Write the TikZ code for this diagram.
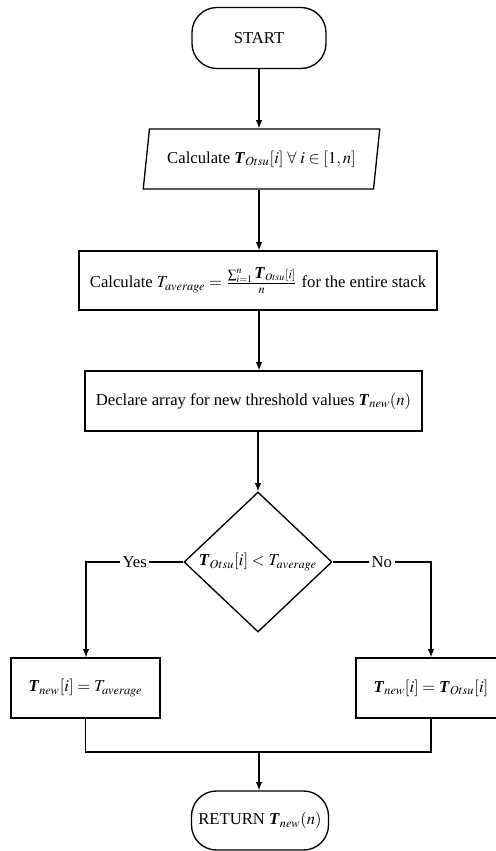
\documentclass[tikz,border=0pt]{standalone}
\usepackage{mathptmx}
\usepackage{fontspec}
\setmainfont{Liberation Serif}
\usetikzlibrary{shapes.geometric,arrows.meta}
\newcommand{\bT}{\textbf{\textit{T}}}
\begin{document}
\begin{tikzpicture}[x=0.6pt,y=-0.6pt,
		flowline/.style={black, thick},
		flowarrow/.style={black, thick, -{Latex[length=5pt,width=4pt]}},
		terminal/.style={draw, thick, rectangle, rounded corners=15pt, inner xsep=2pt, minimum width=80.4pt, minimum height=36.6pt},
		process/.style={draw, thick, rectangle, minimum height=36pt},
		branch/.style={fill=white, inner sep=1.5pt}]
	\clip (0,0) rectangle (496,851);
	\node[terminal] (start) at (259,38){START};
	\node[draw, thick, trapezium, trapezium left angle=78.7, trapezium right angle=101.3, trapezium stretches=true, minimum width=142pt, minimum height=36pt] (otsu) at (261.5,159){Calculate $\bT_{Otsu}[i]\;\forall\;i\in[1,n]$};
	\node[process, minimum width=214.8pt, minimum height=35.4pt] (avg) at (258,280.5){Calculate $T_{average} = \frac{\sum_{i=1}^{n}\bT_{Otsu}[i]}{n}$ for the entire stack};
	\node[process, minimum width=202.2pt] (arr) at (253.5,401){Declare array for new threshold values $\bT_{new}(n)$};
	\node[draw, thick, diamond, inner sep=0pt, minimum width=88.8pt, minimum height=84pt] (cmp) at (258,562){$\bT_{Otsu}[i] < T_{average}$};
	\node[process, minimum width=89.4pt] (yes) at (85.5,688){$\bT_{new}[i] = T_{average}$};
	\node[process, minimum width=90pt] (no) at (431,688){$\bT_{new}[i] = \bT_{Otsu}[i]$};
	\node[terminal, minimum width=82.2pt, minimum height=35.4pt] (ret) at (260,820.5){RETURN $\bT_{new}(n)$};
	\coordinate (yturn) at (86,562);
	\coordinate (nturn) at (431,562);
	\coordinate (merge) at (259,752);
	% main column
	\draw[flowarrow] (start.south) -- (start.south |- otsu.north);
	\draw[flowarrow] (start.south |- otsu.south) -- (start.south |- avg.north);
	\draw[flowarrow] (start.south |- avg.south) -- (start.south |- arr.north);
	\draw[flowarrow] (cmp.north |- arr.south) -- (cmp.north);
	% decision
	\draw[flowarrow] (cmp.west) -- node[branch]{Yes} (yturn) -- (yturn |- yes.north);
	\draw[flowarrow] (cmp.east) -- node[branch]{No} (nturn) -- (no.north);
	\draw[flowline] (yes.south) -- (yes.south |- merge) -- (no.south |- merge) -- (no.south);
	\draw[flowarrow] (merge) -- (merge |- ret.north);
\end{tikzpicture}
\end{document}
